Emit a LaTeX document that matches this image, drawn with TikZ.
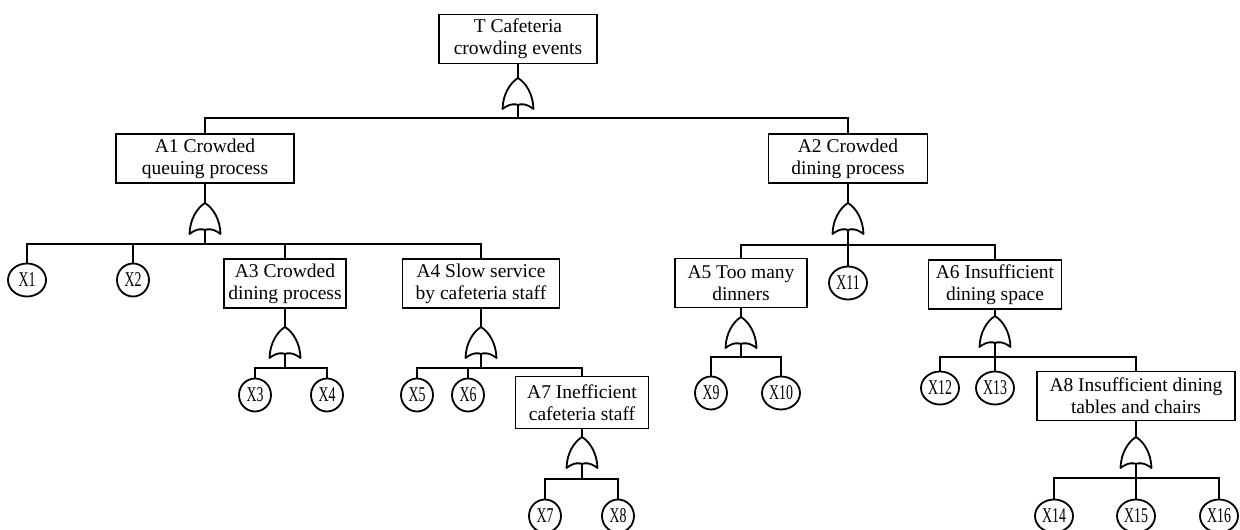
\documentclass[tikz,border=0pt]{standalone}
\usepackage{fontspec}
\setmainfont{Liberation Serif}
\newfontfamily\evfont[FakeStretch=0.66]{Liberation Serif}
\usetikzlibrary{shapes.geometric}

\begin{document}
\begin{tikzpicture}[x=1pt,y=-1pt,line width=1.8pt,
  event/.style={draw,rectangle,align=center,inner xsep=0pt,inner ysep=0pt,
    minimum height=49pt,font=\fontsize{19.5}{22}\selectfont},
  basic/.style={draw,ellipse,inner sep=0pt,minimum width=32pt,minimum height=33pt,
    font=\evfont\fontsize{21}{22}\selectfont},
  basicw/.style={basic,minimum width=38pt},
  orgate/.pic={
    \draw[line join=round] (-15.5,31) .. controls (-15,16) and (-8,5) .. (0,0)
      .. controls (8,5) and (15,16) .. (15.5,31)
      .. controls (8,25) and (2,26) .. (0,27)
      .. controls (-2,26) and (-8,25) .. cycle;
    \coordinate (-in) at (0,0);
    \coordinate (-out) at (0,27);
  }]
\useasboundingbox (0,0) rectangle (1240,530);

% events
\node[event,minimum width=158pt] (T)  at (518,39)    {T Cafeteria\\crowding events};
\node[event,minimum width=178pt] (A1) at (205,158.5) {A1 Crowded\\queuing process};
\node[event,minimum width=159pt] (A2) at (848,158.5) {A2 Crowded\\dining process};
\node[event,minimum width=122pt] (A3) at (285,283.5) {A3 Crowded\\dining process};
\node[event,minimum width=157pt] (A4) at (481,283.5) {A4 Slow service\\by cafeteria staff};
\node[event,minimum width=132pt] (A5) at (741,283)   {A5 Too many\\dinners};
\node[event,minimum width=133pt] (A6) at (995,284.5) {A6 Insufficient\\dining space};
\node[event,minimum width=133pt,minimum height=52pt] (A7) at (582,402.5) {A7 Inefficient\\cafeteria staff};
\node[event,minimum width=198pt] (A8) at (1136,396)  {A8 Insufficient dining\\tables and chairs};

% basic events
\node[basicw] (X1)  at (27,280)   {X1};
\node[basic]  (X2)  at (133,280)  {X2};
\node[basic]  (X3)  at (255,395)  {X3};
\node[basic]  (X4)  at (327,395)  {X4};
\node[basic]  (X5)  at (417,395)  {X5};
\node[basic]  (X6)  at (468,395)  {X6};
\node[basic]  (X7)  at (545,516)  {X7};
\node[basic]  (X8)  at (618,516)  {X8};
\node[basic]  (X9)  at (711,393)  {X9};
\node[basicw] (X10) at (781,393)  {X10};
\node[basicw] (X11) at (848,283)  {X11};
\node[basicw] (X12) at (940,388)  {X12};
\node[basicw] (X13) at (995,388)  {X13};
\node[basicw] (X14) at (1054,516) {X14};
\node[basicw] (X15) at (1136,516) {X15};
\node[basicw] (X16) at (1219,516) {X16};

% OR gates
\pic (gT) at (518,78)  {orgate};
\pic (g1) at (205,203) {orgate};
\pic (g2) at (848,203) {orgate};
\pic (g3) at (285,327) {orgate};
\pic (g4) at (481,327) {orgate};
\pic (g5) at (741,317) {orgate};
\pic (g6) at (995,316) {orgate};
\pic (g7) at (582,437) {orgate};
\pic (g8) at (1136,437){orgate};

% bus junctions below each gate
\coordinate (bT) at (518,118);
\coordinate (b1) at (205,244);
\coordinate (b2) at (848,245);
\coordinate (b3) at (285,368);
\coordinate (b4) at (481,368);
\coordinate (b5) at (741,357);
\coordinate (b6) at (995,357);
\coordinate (b7) at (582,479);
\coordinate (b8) at (1136,478);

% connectors
\draw (T.south) -- (gT-in);
\draw (gT-out) -- (bT) -| (A1.north);
\draw (bT) -| (A2.north);

\draw (A1.south) -- (g1-in);
\draw (g1-out) -- (b1) -| (X1.north);
\draw (b1) -| (X2.north);
\draw (b1) -| (A3.north);
\draw (b1) -| (A4.north);

\draw (A2.south) -- (g2-in);
\draw (g2-out) -- (b2) -| (A5.north);
\draw (b2) -- (X11.north);
\draw (b2) -| (A6.north);

\draw (A3.south) -- (g3-in);
\draw (g3-out) -- (b3) -| (X3.north);
\draw (b3) -| (X4.north);

\draw (A4.south) -- (g4-in);
\draw (g4-out) -- (b4) -| (X5.north);
\draw (b4) -| (X6.north);
\draw (b4) -| (A7.north);

\draw (A5.south) -- (g5-in);
\draw (g5-out) -- (b5) -| (X9.north);
\draw (b5) -| (X10.north);

\draw (A6.south) -- (g6-in);
\draw (g6-out) -- (b6) -| (X12.north);
\draw (b6) -- (X13.north);
\draw (b6) -| (A8.north);

\draw (A7.south) -- (g7-in);
\draw (g7-out) -- (b7) -| (X7.north);
\draw (b7) -| (X8.north);

\draw (A8.south) -- (g8-in);
\draw (g8-out) -- (b8) -| (X14.north);
\draw (b8) -- (X15.north);
\draw (b8) -| (X16.north);
\end{tikzpicture}
\end{document}
